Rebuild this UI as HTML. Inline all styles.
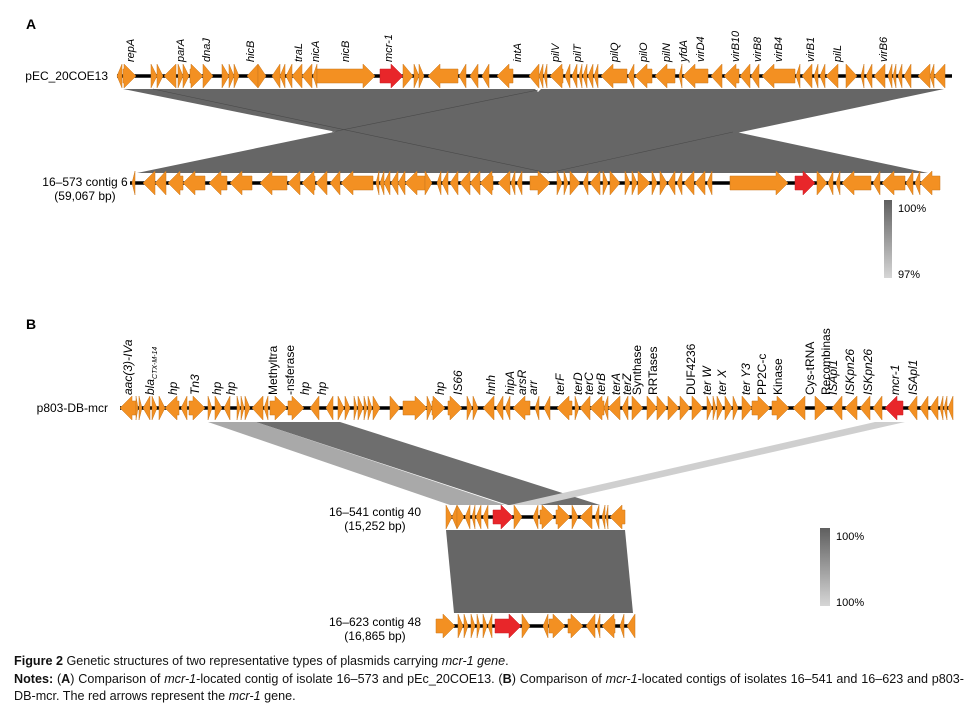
<!DOCTYPE html>
<html><head><meta charset="utf-8">
<style>
body{margin:0;background:#fff;width:980px;height:713px;overflow:hidden;font-family:"Liberation Sans",sans-serif;}
#cap{position:absolute;left:14px;top:653px;width:950px;font-size:12.6px;color:#111;line-height:17.5px;font-family:"Liberation Sans Narrow","Liberation Sans",sans-serif;}
#cap p{margin:0;text-align:justify;}
</style></head><body>
<svg id="fig" width="980" height="650" style="position:absolute;left:0;top:0" font-family="Liberation Sans, sans-serif">
<defs>
<linearGradient id="gA" x1="0" y1="0" x2="0" y2="1"><stop offset="0" stop-color="#5f5f5f"/><stop offset="1" stop-color="#d6d6d6"/></linearGradient>
</defs>
<g id="ribbons"></g>
<g id="tracks"></g>
<g id="labels"></g>
<text x="26" y="29" font-size="14" font-weight="bold">A</text>
<text x="26" y="329" font-size="14" font-weight="bold">B</text>
<text x="108" y="80" font-size="12" text-anchor="end">pEC_20COE13</text>
<text x="85" y="186" font-size="12" text-anchor="middle">16–573 contig 6</text>
<text x="85" y="200" font-size="12" text-anchor="middle">(59,067 bp)</text>
<text x="108" y="412" font-size="12" text-anchor="end">p803-DB-mcr</text>
<text x="375" y="516" font-size="12" text-anchor="middle">16–541 contig 40</text>
<text x="375" y="530" font-size="12" text-anchor="middle">(15,252 bp)</text>
<text x="375" y="626" font-size="12" text-anchor="middle">16–623 contig 48</text>
<text x="375" y="640" font-size="12" text-anchor="middle">(16,865 bp)</text>
<rect x="884" y="200" width="8" height="78" fill="url(#gA)"/>
<text x="898" y="212" font-size="11">100%</text>
<text x="898" y="278" font-size="11">97%</text>
<rect x="820" y="528" width="10" height="78" fill="url(#gA)"/>
<text x="836" y="540" font-size="11">100%</text>
<text x="836" y="606" font-size="11">100%</text>
</svg>
<div id="cap">
<p><b>Figure 2</b> Genetic structures of two representative types of plasmids carrying <i>mcr-1 gene</i>.</p>
<p><b>Notes:</b> (<b>A</b>) Comparison of <i>mcr-1</i>-located contig of isolate 16–573 and pEc_20COE13. (<b>B</b>) Comparison of <i>mcr-1</i>-located contigs of isolates 16–541 and 16–623 and p803-DB-mcr. The red arrows represent the <i>mcr-1</i> gene.</p>
</div>
<script>
// gene coordinates in kb along each track: [start, end, strand(1/-1), isMcr]
const genesA1=[[0,0.5,-1],[0.6,1.9,1],[3.4,4,1],[4,4.6,1],[4.7,5.9,-1],[6.1,6.6,1],[6.6,7.2,1],[7.3,8.6,1],[8.6,9.6,1],[10.5,11.2,1],[11.2,11.7,1],[11.7,12.2,1],[13,14.1,-1],[14.1,14.9,1],[15.5,16.3,-1],[16.3,16.8,-1],[16.9,17.5,-1],[17.5,18.5,-1],[18.5,19.5,-1],[19.6,20,-1],[20,25.8,1],[26.3,28.6,1,1],[28.6,29.6,1],[29.7,30.2,1],[30.2,30.7,1],[31.1,34.1,-1],[34.2,34.9,-1],[35.3,36.1,-1],[36.5,37.2,-1],[38,39.6,-1],[41.2,42.2,-1],[42.2,42.6,-1],[42.7,43,-1],[43.3,44.6,-1],[44.8,45.3,-1],[45.5,46,-1],[46.2,46.5,-1],[46.6,47,-1],[47.1,47.6,-1],[47.7,48.1,-1],[48.4,51,-1],[51.1,51.7,-1],[51.8,53.5,-1],[53.8,55.8,-1],[56.2,56.5,-1],[56.6,59.1,-1],[59.4,60.5,-1],[60.7,62.2,-1],[62.3,63.3,-1],[63.4,64.2,-1],[64.5,67.8,-1],[67.9,68.3,-1],[68.5,69.5,-1],[69.7,70.1,-1],[70.3,70.8,-1],[70.9,72.1,-1],[72.9,74,1],[74.4,74.7,-1],[74.9,75.5,-1],[75.7,76.8,-1],[77.1,77.5,-1],[77.6,77.9,-1],[78.1,78.5,-1],[78.7,79.4,-1],[80.1,81.3,-1],[81.3,81.7,-1],[81.7,82.8,-1]];
const genesA2=[[0.2,0.5,-1],[1.3,2.5,-1],[2.5,3.6,-1],[3.8,5.3,-1],[5.3,7.5,-1],[7.9,9.7,-1],[10,12.2,-1],[13,15.7,-1],[15.8,17,-1],[17.2,18.5,-1],[18.6,19.7,-1],[20,21,-1],[21.1,24.3,-1],[24.6,24.9,-1],[25,25.4,-1],[25.4,26,-1],[26.1,26.8,-1],[26.8,27.5,-1],[27.5,29.5,-1],[29.5,30.2,1],[30.7,31.1,-1],[31.2,31.8,-1],[32,32.8,-1],[33,34,-1],[34,35,-1],[35,36.3,-1],[36.8,38,-1],[38.1,38.5,-1],[38.7,39.2,-1],[40,42,1],[42.7,43.2,1],[43.4,43.8,1],[44,45,1],[45.3,45.8,-1],[46,47,-1],[47.3,47.8,1],[48,49,1],[49.5,50,1],[50.2,50.7,1],[50.8,52,1],[52.2,52.7,1],[53,53.7,1],[53.8,54.5,-1],[54.7,55.2,-1],[55.4,56.4,-1],[56.5,57.5,-1],[57.7,58.2,-1],[60,65.8,1],[66.5,68.5,1,1],[68.7,69.7,1],[69.8,70.3,-1],[70.6,71,-1],[71.2,74.1,-1],[74.3,75,-1],[75.2,77.5,-1],[77.6,78.3,-1],[78.5,79,-1],[79,81,-1]];
const genesB1=[[0,1.6,-1],[1.6,1.8,1],[1.9,2.2,1],[2.3,3,-1],[3.2,3.7,1],[3.9,4.5,1],[4.5,5.9,-1],[6.1,6.7,-1],[6.9,8.5,1],[8.8,9.2,1],[9.5,10.2,1],[10.4,11,-1],[11.7,12,1],[12.1,12.4,1],[12.5,13,1],[13.2,14.3,-1],[14.4,14.8,-1],[15,16.7,1],[16.8,18.4,1],[19,19.9,-1],[20.6,21.3,-1],[21.8,22.4,1],[22.5,23,1],[23.4,23.7,1],[23.8,24.3,1],[24.4,24.7,1],[24.8,25.2,1],[25.3,26,1],[27,28,1],[28.3,30.7,1],[30.7,31.2,1],[31.2,32.5,1],[32.8,34.2,1],[34.7,35.2,1],[35.3,35.8,1],[36.3,37.4,-1],[37.6,38.3,-1],[38.5,39,-1],[39.3,41,-1],[41.5,41.9,-1],[42.4,43,-1],[43.7,45.2,-1],[45.5,45.9,1],[46,47,-1],[47,48.4,-1],[48.4,48.8,-1],[48.8,50,-1],[50.2,50.8,-1],[51.2,52.3,1],[52.7,53.7,1],[53.7,54.7,1],[54.8,55.9,1],[56,57,1],[57.2,58.3,1],[58.7,59.2,1],[59.3,59.6,1],[59.7,60.3,1],[60.5,61.2,1],[61.3,61.8,1],[62.2,63.2,1],[63.2,65,1],[65.2,66.9,1],[67.3,68.5,-1],[69.5,70.7,1],[71.2,72.2,-1],[72.5,73.7,-1],[74,75,-1],[75.3,76.2,-1],[76.5,78.3,-1,1],[78.8,79.7,-1],[80,80.8,-1],[81,81.8,-1],[82,82.3,-1],[82.4,82.7,-1],[82.8,83.3,-1]];
const genesB2=[[0,0.6,1],[0.6,1.1,-1],[1.1,1.8,1],[1.9,2.4,-1],[2.6,2.9,-1],[3,3.5,-1],[3.7,4.2,-1],[4.7,6.7,1,1],[6.8,7.6,1],[8.7,9.2,-1],[9.4,10.8,1],[11,12.4,1],[12.6,13.2,1],[13.4,14.6,-1],[14.9,15.3,-1],[15.6,15.9,-1],[16,16.2,-1],[16.4,17.9,-1]];
const genesB3=[[0,1.9,1],[2.2,2.7,1],[2.8,3.2,1],[3.5,3.9,1],[4.1,4.4,1],[4.7,5.1,1],[5.2,5.6,-1],[5.9,8.5,1,1],[8.6,9.4,1],[10.7,11.2,-1],[11.3,12.9,1],[13.2,14.7,1],[15,15.9,-1],[16.1,16.4,-1],[16.6,17.9,-1],[18.4,18.8,-1],[19.1,19.9,-1]];
const tracksSpec=[
 {name:'pec-20coe13',genes:genesA1,x0:117,len:83.5,y:76},
 {name:'contig-16-573',genes:genesA2,x0:130,len:81,y:183},
 {name:'p803-db-mcr',genes:genesB1,x0:120,len:83.3,y:408},
 {name:'contig-16-541',genes:genesB2,x0:446,len:17.9,y:517},
 {name:'contig-16-623',genes:genesB3,x0:436,len:19.9,y:626}];
// labels: [name, kb position along track, italic]
const labelsA=[['repA',1.3,1],['parA',6.3,1],['dnaJ',8.9,1],['hicB',13.3,1],['traL',18.1,1],['nicA',19.8,1],['nicB',22.8,1],['mcr-1',27.1,1],['intA',40,1],['pilV',43.8,1],['pilT',46,1],['pilQ',49.7,1],['pilO',52.6,1],['pilN',54.9,1],['yfdA',56.6,1],['virD4',58.3,1],['virB10',61.8,1],['virB8',64,1],['virB4',66.1,1],['virB1',69.3,1],['pilL',72,1],['virB6',76.6,1]];
const labelsB=[['aac(3)-IVa',0.8,1],['bla',3,1,'CTX-M-14'],['hp',5.3,1],['Tn3',7.5,1],['hp',9.7,1],['hp',11.1,1],['Methyltra',15.3,0],['-nsferase',17,0],['hp',18.5,1],['hp',20.2,1],['hp',32,1],['IS66',33.8,1],['hnh',37.1,1],['hipA',39,1],['arsR',40.2,1],['arr',41.3,1],['terF',44,1],['terD',45.8,1],['terC',46.9,1],['terB',48.1,1],['terA',49.6,1],['terZ',50.7,1],['Synthase',51.7,0],['RRTases',53.3,0],['DUF4236',57.1,0],['ter W',58.7,1],['ter X',60.2,1],['ter Y3',62.6,1],['PP2C-c',64.2,0],['Kinase',65.8,0],['Cys-tRNA',69,0],['Recombinas',70.6,0],['ISApl1',71.3,1],['ISKpn26',73,1],['ISKpn26',74.8,1],['mcr-1',77.5,1],['ISApl1',79.3,1]];
const NS='http://www.w3.org/2000/svg';
function mk(t,a,p){const e=document.createElementNS(NS,t);for(const k in a)e.setAttribute(k,a[k]);p.appendChild(e);return e;}
function xs(tr,kb){return tr.x0+kb*10;}
const gT=document.getElementById('tracks');
tracksSpec.forEach(tr=>{
 const g=mk('g',{},gT);
 
 
 const ln=mk('line',{x1:xs(tr,0),x2:xs(tr,tr.len),y1:tr.y,y2:tr.y,stroke:'#000','stroke-width':3.5},g);
 
 
 tr.genes.forEach(gn=>{
  const a=xs(tr,gn[0]),b=xs(tr,gn[1]),y=tr.y,w=b-a,h=Math.min(12,w),H=12,S=7;
  let pts;
  if(gn[2]>0){const m=b-h;pts=[[a,y-S],[m,y-S],[m,y-H],[b,y],[m,y+H],[m,y+S],[a,y+S]];}
  else{const m=a+h;pts=[[b,y-S],[m,y-S],[m,y-H],[a,y],[m,y+H],[m,y+S],[b,y+S]];}
  const p=mk('polygon',{points:pts.map(q=>q.join(',')).join(' '),fill:gn[3]?'#e8262a':'#f39022',stroke:gn[3]?'#c81e20':'#c9771c','stroke-width':0.5},g);
  
  
 });
});
const gL=document.getElementById('labels');
function addLabels(list,tr,baseY,fs){
 list.forEach(l=>{
  const x=xs(tr,l[1])+4;
  const t=mk('text',{transform:`translate(${x},${baseY}) rotate(-90)`,'font-size':fs,'font-style':l[2]?'italic':'normal'},gL);
  
  
  t.textContent=l[0];
  if(l[3]){const s=mk('tspan',{'font-size':7,dy:3},t);s.textContent=l[3];}
 });
}
addLabels(labelsA,tracksSpec[0],62,11);
addLabels(labelsB,tracksSpec[2],395,12);
const gR=document.getElementById('ribbons');
function rib(pts,fill,name){const p=mk('polygon',{points:pts.map(q=>q.join(',')).join(' '),fill:fill},gR);
 
 }
rib([[123,89],[535,89],[928,173],[540,173]],'#666','alignment-ribbon-a1');
rib([[541,89],[944,89],[548,173],[137,173]],'#666','alignment-ribbon-a2');
rib([[535,89],[541,89],[538,92]],'#fff','ribbon-notch');
mk('line',{x1:153,y1:89,x2:548,y2:173,stroke:'#4a4a4a','stroke-width':0.6},gR);
mk('line',{x1:332,y1:132,x2:538,y2:90,stroke:'#4a4a4a','stroke-width':0.6},gR);
mk('line',{x1:548,y1:173,x2:733,y2:132,stroke:'#4a4a4a','stroke-width':0.6},gR);
rib([[208,422],[256,422],[505,505],[450,505]],'#a9a9a9','alignment-ribbon-b1');
rib([[256,422],[340,422],[600,505],[508,505]],'#6e6e6e','alignment-ribbon-b2');
rib([[875,422],[905,422],[540,505],[510,505]],'#cfcfcf','alignment-ribbon-b3');
rib([[446,530],[625,530],[633,613],[454,613]],'#666','alignment-ribbon-b4');
</script>
</body></html>
